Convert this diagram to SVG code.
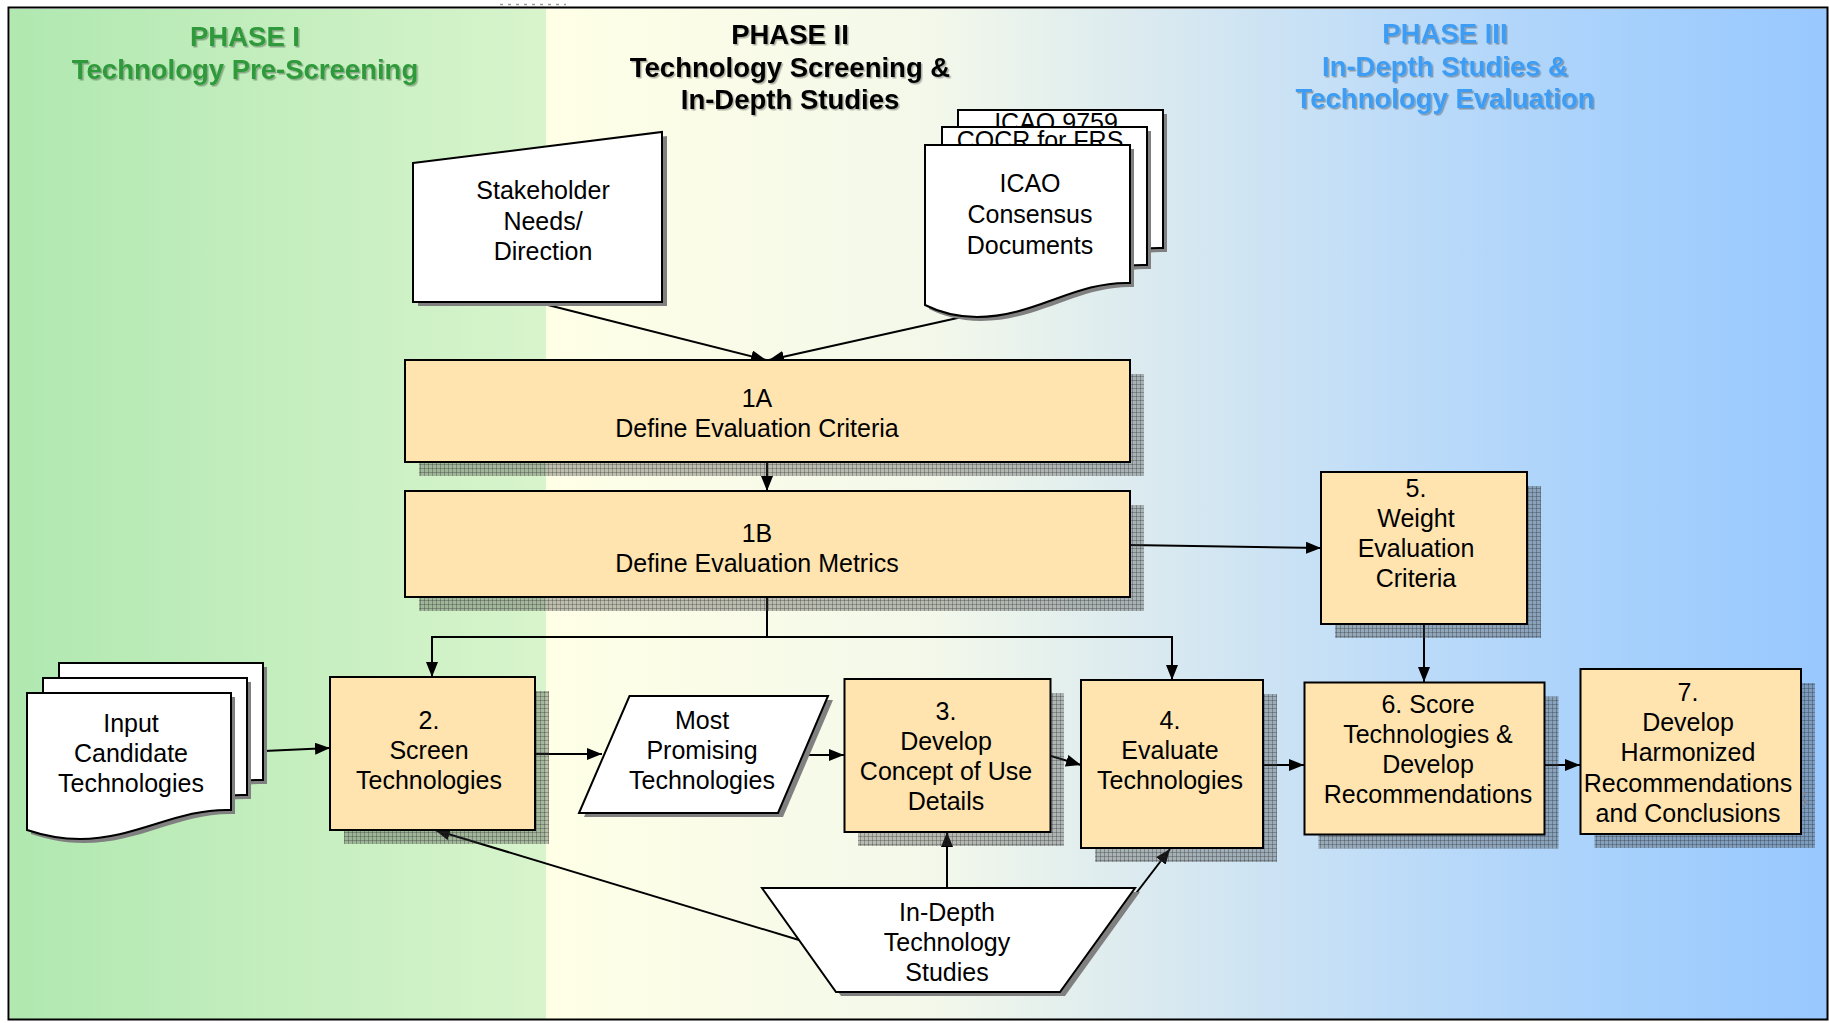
<svg xmlns="http://www.w3.org/2000/svg" width="1829" height="1023" viewBox="0 0 1829 1023">
<style>
.t{font-family:"Liberation Sans",Arial,sans-serif;font-size:25px;fill:#000;text-anchor:middle}
.h{font-family:"Liberation Sans",Arial,sans-serif;font-size:27.5px;font-weight:bold;text-anchor:middle}
.box{fill:#ffe4b0;stroke:#000;stroke-width:2}
.wht{fill:#fff;stroke:#000;stroke-width:2}
.sh{fill:url(#hatch)}
.ws{fill:#808080}
.c{fill:none;stroke:#000;stroke-width:2}
.a{marker-end:url(#arr)}
</style>
<defs>
<linearGradient id="gGreen" x1="0" x2="1" y1="0" y2="0">
<stop offset="0" stop-color="#b0e8b0"/>
<stop offset="1" stop-color="#d8f4cc"/>
</linearGradient>
<linearGradient id="gRight" x1="0" x2="1" y1="0" y2="0">
<stop offset="0" stop-color="#ffffe6"/>
<stop offset="0.3" stop-color="#f3f8ea"/>
<stop offset="0.48" stop-color="#d9e9f0"/>
<stop offset="0.66" stop-color="#bedcf8"/>
<stop offset="0.85" stop-color="#a6d0fc"/>
<stop offset="1" stop-color="#98c8ff"/>
</linearGradient>
<pattern id="hatch" width="4" height="4" patternUnits="userSpaceOnUse">
<rect width="4" height="4" fill="#3c3c3c" fill-opacity="0.33"/>
<path d="M0,0.5H4M0.5,0V4" stroke="#282828" stroke-opacity="0.3" stroke-width="1"/>
</pattern>
<marker id="arr" markerUnits="userSpaceOnUse" markerWidth="16" markerHeight="12" refX="15" refY="6" orient="auto">
<path d="M0,0 L15,6 L0,12 z" fill="#000"/>
</marker>
<filter id="ts" x="-5%" y="-20%" width="110%" height="140%">
<feDropShadow dx="1.5" dy="1.5" stdDeviation="0.6" flood-color="#000" flood-opacity="0.3"/>
</filter>
<clipPath id="clipBack"><rect x="958" y="100" width="210" height="27"/></clipPath>
<clipPath id="clipMid"><rect x="942" y="120" width="210" height="25"/></clipPath>
<path id="doc1" d="M0,0 H205 V138 C150,136 110,172 52,172 C30,172 12,166 0,160 Z"/>
<path id="doc2" d="M0,0 H204 V117 C150,115 110,146 53,146 C30,146 12,141 0,137 Z"/>
</defs>

<g id="background">
<rect x="10" y="9" width="536" height="1011" fill="url(#gGreen)"/>
<rect x="546" y="9" width="1282" height="1011" fill="url(#gRight)"/>
<rect x="8.5" y="7.5" width="1819" height="1012" fill="none" stroke="#000" stroke-width="2"/>
<path d="M500,4.5 H566" stroke="#9a9a9a" stroke-width="1.5" stroke-dasharray="3,5"/>
</g>

<g id="titles" filter="url(#ts)">
<text class="h" fill="#2f9a3a" x="245" y="46">PHASE I</text>
<text class="h" fill="#2f9a3a" x="245" y="79">Technology Pre-Screening</text>
<text class="h" fill="#000" x="790" y="44">PHASE II</text>
<text class="h" fill="#000" x="790" y="76.5">Technology Screening &amp;</text>
<text class="h" fill="#000" x="790" y="109">In-Depth Studies</text>
<text class="h" fill="#3c9cf4" x="1445" y="43">PHASE III</text>
<text class="h" fill="#3c9cf4" x="1445" y="75.5">In-Depth Studies &amp;</text>
<text class="h" fill="#3c9cf4" x="1445" y="108">Technology Evaluation</text>
</g>

<g id="connectors">
<path class="c a" d="M536,302 L766,360"/>
<path class="c a" d="M962,317 L769,360"/>
<path class="c a" d="M767,462 V491"/>
<path class="c a" d="M767,597 V637 H432 V677"/>
<path class="c a" d="M767,637 H1172 V680"/>
<path class="c a" d="M1130,545 L1321,548"/>
<path class="c a" d="M264,751 L330,748"/>
<path class="c a" d="M535,754 L602,754"/>
<path class="c a" d="M803,755 L844,755"/>
<path class="c a" d="M1051,756 L1081,765"/>
<path class="c a" d="M947,888 V832"/>
<path class="c a" d="M799,940 L435,830"/>
<path class="c a" d="M1062,990 L1170,849"/>
<path class="c a" d="M1424,624 V682"/>
<path class="c a" d="M1263,765 H1304"/>
<path class="c a" d="M1544,765 H1580"/>
</g>

<g id="stakeholder">
<polygon class="ws" points="418,167 667,136 667,306 418,306"/>
<polygon class="wht" points="413,163 662,132 662,302 413,302"/>
<text class="t" x="543" y="199">Stakeholder</text>
<text class="t" x="543" y="229.5">Needs/</text>
<text class="t" x="543" y="260">Direction</text>
</g>

<g id="icao-docs">
<use href="#doc1" x="962" y="114" class="ws"/>
<use href="#doc1" x="958" y="110" class="wht"/>
<text class="t" x="1056" y="131" clip-path="url(#clipBack)">ICAO 9759</text>
<use href="#doc1" x="946" y="131" class="ws"/>
<use href="#doc1" x="942" y="127" class="wht"/>
<text class="t" x="1040" y="149" clip-path="url(#clipMid)">COCR for FRS</text>
<use href="#doc1" x="929" y="149" class="ws"/>
<use href="#doc1" x="925" y="145" class="wht"/>
<text class="t" x="1030" y="192">ICAO</text>
<text class="t" x="1030" y="223">Consensus</text>
<text class="t" x="1030" y="254">Documents</text>
</g>

<g id="box-1a">
<rect class="sh" x="419" y="374" width="725" height="102"/>
<rect class="box" x="405" y="360" width="725" height="102"/>
<text class="t" x="757" y="407">1A</text>
<text class="t" x="757" y="437">Define Evaluation Criteria</text>
</g>

<g id="box-1b">
<rect class="sh" x="419" y="505" width="725" height="106"/>
<rect class="box" x="405" y="491" width="725" height="106"/>
<text class="t" x="757" y="542">1B</text>
<text class="t" x="757" y="572">Define Evaluation Metrics</text>
</g>

<g id="input-docs">
<use href="#doc2" x="63" y="667" class="ws"/>
<use href="#doc2" x="59" y="663" class="wht"/>
<use href="#doc2" x="47" y="682" class="ws"/>
<use href="#doc2" x="43" y="678" class="wht"/>
<use href="#doc2" x="31" y="697" class="ws"/>
<use href="#doc2" x="27" y="693" class="wht"/>
<text class="t" x="131" y="732">Input</text>
<text class="t" x="131" y="762">Candidate</text>
<text class="t" x="131" y="792">Technologies</text>
</g>

<g id="box-2">
<rect class="sh" x="344" y="691" width="205" height="153"/>
<rect class="box" x="330" y="677" width="205" height="153"/>
<text class="t" x="429" y="729">2.</text>
<text class="t" x="429" y="759">Screen</text>
<text class="t" x="429" y="789">Technologies</text>
</g>

<g id="most-promising">
<polygon class="ws" points="634,700 833,700 783,817 584,817"/>
<polygon class="wht" points="629.5,696 828,696 778,813 579,813"/>
<text class="t" x="702" y="729">Most</text>
<text class="t" x="702" y="759">Promising</text>
<text class="t" x="702" y="789">Technologies</text>
</g>

<g id="box-3">
<rect class="sh" x="858" y="693" width="206" height="153"/>
<rect class="box" x="844.5" y="679" width="206" height="153"/>
<text class="t" x="946" y="719.5">3.</text>
<text class="t" x="946" y="749.5">Develop</text>
<text class="t" x="946" y="779.5">Concept of Use</text>
<text class="t" x="946" y="809.5">Details</text>
</g>

<g id="box-4">
<rect class="sh" x="1095" y="694" width="182" height="168"/>
<rect class="box" x="1081" y="680" width="182" height="168"/>
<text class="t" x="1170" y="729">4.</text>
<text class="t" x="1170" y="759">Evaluate</text>
<text class="t" x="1170" y="789">Technologies</text>
</g>

<g id="in-depth-studies">
<polygon class="ws" points="767,892 1140,892 1065,996 841,996"/>
<polygon class="wht" points="762,888 1135,888 1060,992 836,992"/>
<text class="t" x="947" y="921">In-Depth</text>
<text class="t" x="947" y="951">Technology</text>
<text class="t" x="947" y="981">Studies</text>
</g>

<g id="box-5">
<rect class="sh" x="1335" y="486" width="206" height="152"/>
<rect class="box" x="1321" y="472" width="206" height="152"/>
<text class="t" x="1416" y="497">5.</text>
<text class="t" x="1416" y="527">Weight</text>
<text class="t" x="1416" y="557">Evaluation</text>
<text class="t" x="1416" y="587">Criteria</text>
</g>

<g id="box-6">
<rect class="sh" x="1318.5" y="696.5" width="240" height="152"/>
<rect class="box" x="1304.5" y="682.5" width="240" height="152"/>
<text class="t" x="1428" y="713">6. Score</text>
<text class="t" x="1428" y="743">Technologies &amp;</text>
<text class="t" x="1428" y="773">Develop</text>
<text class="t" x="1428" y="803">Recommendations</text>
</g>

<g id="box-7">
<rect class="sh" x="1594.5" y="683" width="220.5" height="165"/>
<text class="t" style="text-anchor:end;fill:#7d8b9c" x="1808" y="805.5">s</text>
<rect class="box" x="1580.5" y="669" width="220.5" height="165"/>
<text class="t" x="1688" y="701">7.</text>
<text class="t" x="1688" y="731">Develop</text>
<text class="t" x="1688" y="761">Harmonized</text>
<text class="t" x="1688" y="791.5">Recommendations</text>
<text class="t" x="1688" y="821.5">and Conclusions</text>
</g>
</svg>
